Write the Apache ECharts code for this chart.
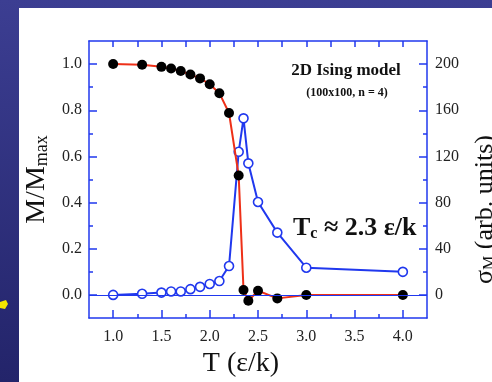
<!DOCTYPE html>
<html>
<head>
<meta charset="utf-8">
<script src="https://cdn.jsdelivr.net/npm/echarts@6/dist/echarts.min.js"></script>
<style>
  html, body { margin: 0; padding: 0; }
  #chart { width: 492px; height: 382px; }
</style>
</head>
<body>
<div id="chart"></div>
<script>
// temperature T (eps/k) of each simulation point
const temps = [1.0, 1.3, 1.5, 1.6, 1.7, 1.8, 1.9, 2.0, 2.1, 2.2, 2.3, 2.35, 2.4, 2.5, 2.7, 3.0, 4.0]
// M / M_max (left axis, filled black points)
const magnet = [1.0, 0.997, 0.988, 0.981, 0.97, 0.955, 0.938, 0.913, 0.874, 0.788, 0.517, 0.021, -0.025, 0.018, -0.015, 0.0, 0.0]
// sigma_M in arb. units (right axis, open blue points)
const sigma = [0, 1, 2, 3, 3, 5, 7, 9.5, 12, 25, 124, 153, 114, 80.5, 54, 23.6, 20]

const xMajor = [1.0, 1.5, 2.0, 2.5, 3.0, 3.5, 4.0]
const xMinor = [1.25, 1.75, 2.25, 2.75, 3.25, 3.75]
const xTop = [1.0, 1.25, 1.5, 1.75, 2.0, 2.25, 2.5, 2.75, 3.0, 3.25, 3.5, 3.75, 4.0]
const yMajor = [0.0, 0.2, 0.4, 0.6, 0.8, 1.0]
const yMinor = [0.1, 0.3, 0.5, 0.7, 0.9]
const sMajor = [0, 40, 80, 120, 160, 200]
const sMinor = [20, 60, 100, 140, 180]

const blue = '#2038ee'
const red = '#ee3018'
const serif = 'Liberation Serif'

const chart = echarts.init(document.getElementById('chart'))

const tickAxis = (extra) => Object.assign({
  type: 'value',
  gridIndex: 0,
  axisLine: { show: false, onZero: false },
  axisLabel: { show: false },
  splitLine: { show: false },
}, extra)

chart.setOption({
  animation: false,
  backgroundColor: new echarts.graphic.LinearGradient(0, 0, 0, 1, [
    { offset: 0, color: '#3c3e92' },
    { offset: 1, color: '#23246a' },
  ]),
  grid: { left: 89, right: 65, top: 41, bottom: 64, outerBoundsMode: 'none', containLabel: false },
  xAxis: [
    {
      type: 'value',
      position: 'bottom',
      min: 0.75,
      max: 4.25,
      axisLine: { onZero: false, lineStyle: { color: blue, width: 1.5 } },
      axisTick: { inside: true, length: 8, customValues: xMajor, lineStyle: { color: blue, width: 1.5 } },
      axisLabel: {
        customValues: xMajor,
        formatter: (v) => v.toFixed(1),
        color: '#222',
        fontFamily: serif,
        fontSize: 16,
        margin: 11,
      },
      splitLine: { show: false },
      name: 'T (ε/k)',
      nameLocation: 'middle',
      nameGap: 32,
      nameTextStyle: { fontFamily: serif, fontSize: 28, color: '#111', padding: [0, 34, 0, 0] },
    },
    tickAxis({
      position: 'bottom', min: 0.75, max: 4.25,
      axisTick: { inside: true, length: 4, customValues: xMinor, lineStyle: { color: blue, width: 1.5 } },
    }),
    tickAxis({
      position: 'top', min: 0.75, max: 4.25,
      axisLine: { show: true, onZero: false, lineStyle: { color: blue, width: 1.5 } },
      axisTick: { inside: true, length: 6, customValues: xTop, lineStyle: { color: blue, width: 1.5 } },
    }),
  ],
  yAxis: [
    {
      type: 'value',
      position: 'left',
      min: -0.1,
      max: 1.1,
      axisLine: { show: true, onZero: false, lineStyle: { color: blue, width: 1.5 } },
      axisTick: { show: true, inside: true, length: 8, customValues: yMajor, lineStyle: { color: blue, width: 1.5 } },
      axisLabel: {
        customValues: yMajor,
        formatter: (v) => v.toFixed(1),
        color: '#222',
        fontFamily: serif,
        fontSize: 16,
        margin: 7,
      },
      splitLine: { show: false },
      name: '{m|M/M}{s|max}',
      nameLocation: 'middle',
      nameGap: 37,
      nameTextStyle: {
        color: '#111',
        rich: {
          m: { fontFamily: serif, fontSize: 28, color: '#111' },
          s: { fontFamily: serif, fontSize: 18, color: '#111', padding: [10, 0, 0, 0] },
        },
      },
    },
    tickAxis({
      position: 'left', min: -0.1, max: 1.1,
      axisTick: { show: true, inside: true, length: 4, customValues: yMinor, lineStyle: { color: blue, width: 1.5 } },
    }),
    {
      type: 'value',
      position: 'right',
      min: -20,
      max: 220,
      axisLine: { show: true, onZero: false, lineStyle: { color: blue, width: 1.5 } },
      axisTick: { show: true, inside: true, length: 8, customValues: sMajor, lineStyle: { color: blue, width: 1.5 } },
      axisLabel: {
        customValues: sMajor,
        color: '#222',
        fontFamily: serif,
        fontSize: 16,
        margin: 8,
      },
      splitLine: { show: false },
      name: '{g|σ}{s|M}{g| (arb. units)}',
      nameLocation: 'middle',
      nameGap: 45,
      nameTextStyle: {
        color: '#111',
        padding: [0, 60, 0, 0],
        rich: {
          g: { fontFamily: serif, fontSize: 26, color: '#111' },
          s: { fontFamily: serif, fontSize: 16, color: '#111', padding: [10, 0, 0, 0] },
        },
      },
    },
    tickAxis({
      position: 'right', min: -20, max: 220,
      axisTick: { show: true, inside: true, length: 4, customValues: sMinor, lineStyle: { color: blue, width: 1.5 } },
    }),
  ],
  graphic: [
    { type: 'rect', z: -10, shape: { x: 19, y: 8, width: 480, height: 380 }, style: { fill: '#fff' } },
    { type: 'polygon', shape: { points: [[0, 302], [6, 300], [8, 304], [5, 309], [0, 308]] }, style: { fill: '#f4e600' } },
    {
      type: 'text', x: 346, y: 71,
      style: { text: '2D Ising model', font: 'bold 17px "Liberation Serif"', fill: '#111', align: 'center', verticalAlign: 'middle' },
    },
    {
      type: 'text', x: 347, y: 93,
      style: { text: '(100x100, n = 4)', font: 'bold 12px "Liberation Serif"', fill: '#111', align: 'center', verticalAlign: 'middle' },
    },
    {
      type: 'text', x: 293, y: 228,
      style: {
        text: '{b|T}{s|c}{b| ≈ 2.3 ε/k}',
        verticalAlign: 'middle',
        rich: {
          b: { fontFamily: serif, fontWeight: 'bold', fontSize: 26, fill: '#111', color: '#111' },
          s: { fontFamily: serif, fontWeight: 'bold', fontSize: 16, fill: '#111', color: '#111', padding: [12, 0, 0, 0] },
        },
      },
    },
  ],
  series: [
    {
      name: 'sigma',
      type: 'line',
      xAxisIndex: 0,
      yAxisIndex: 2,
      data: temps.map((t, i) => [t, sigma[i]]),
      z: 2,
      symbol: 'circle',
      symbolSize: 9,
      lineStyle: { color: blue, width: 2 },
      itemStyle: { color: '#fff', borderColor: blue, borderWidth: 1.6 },
      markLine: {
        silent: true,
        symbol: 'none',
        label: { show: false },
        lineStyle: { color: blue, width: 1, type: 'solid' },
        data: [{ yAxis: 0 }],
      },
    },
    {
      name: 'M',
      type: 'line',
      xAxisIndex: 0,
      yAxisIndex: 0,
      data: temps.map((t, i) => [t, magnet[i]]),
      z: 3,
      symbol: 'circle',
      symbolSize: 10,
      lineStyle: { color: red, width: 2 },
      itemStyle: { color: '#000' },
    },
  ],
})
</script>
</body>
</html>
